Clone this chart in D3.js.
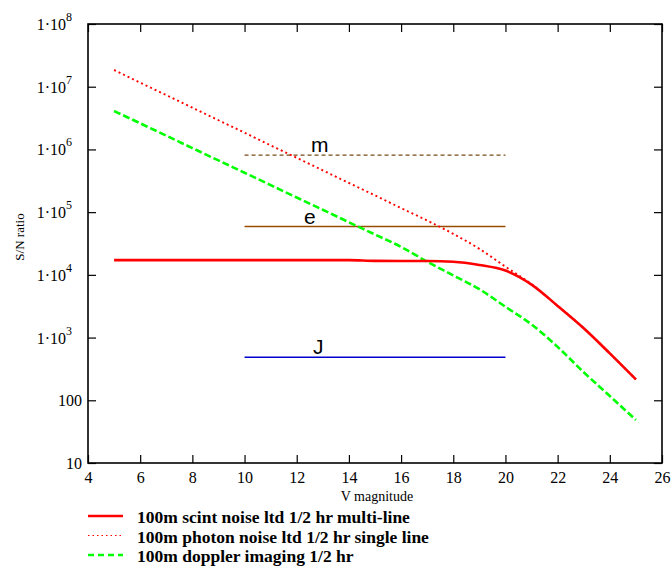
<!DOCTYPE html>
<html><head><meta charset="utf-8">
<script src="https://cdn.jsdelivr.net/npm/d3@7"></script>
<style>body{margin:0;background:#fff}svg{display:block}</style>
</head><body>
<svg id="chart" width="671" height="566"></svg>
<script>
// ---- data ----
const vMag = [5,6,7,8,9,10,11,12,13,14,15,16,17,18,19,20,21,22,23,24,25];
const scintMultiLine = [1.72e4,1.72e4,1.72e4,1.72e4,1.72e4,1.72e4,1.72e4,1.72e4,1.72e4,1.72e4,1.67e4,1.66e4,1.66e4,1.62e4,1.44e4,1.17e4,7.0e3,3.2e3,1.41e3,560,215];
const photonSingleLine = [1.85e7,1.16e7,7.35e6,4.63e6,2.92e6,1.85e6,1.16e6,7.35e5,4.63e5,2.92e5,1.85e5,1.16e5,7.35e4,4.5e4,2.6e4,1.35e4,7.1e3,3.2e3,1.41e3,560,215];
const dopplerImaging = [4.1e6,2.61e6,1.66e6,1.05e6,6.68e5,4.25e5,2.7e5,1.71e5,1.09e5,6.9e4,4.4e4,2.79e4,1.62e4,9.8e3,5.9e3,3.1e3,1.62e3,710,280,117,48.5];

const refNames = ["m","e","J"];
const refValues = [8.1e5, 5.9e4, 485];
const refFrom = [10, 10, 10];
const refTo = [20, 20, 20];

const xTicks = [4,6,8,10,12,14,16,18,20,22,24,26];
const yTicks = [10,100,1e3,1e4,1e5,1e6,1e7,1e8];
const yTickMant = ["10","100","1·10","1·10","1·10","1·10","1·10","1·10"];
const yTickExp  = ["","","3","4","5","6","7","8"];

const legendLabels = ["100m scint noise ltd 1/2 hr multi-line","100m photon noise ltd 1/2 hr single line","100m doppler imaging 1/2 hr"];

// ---- chart ----
const svg = d3.select("#chart");
const L = 88, R = 662, T = 24, B = 463;
const x = d3.scaleLinear().domain([4,26]).range([L,R]);
const y = d3.scaleLog().domain([10,1e8]).range([B,T]);
const serif = "'Liberation Serif','Times New Roman',serif";
const sans = "'Liberation Sans',Arial,sans-serif";

// axes with inward ticks
const gB = svg.append("g").attr("transform",`translate(0,${B})`)
  .call(d3.axisBottom(x).tickValues(xTicks).tickSizeInner(-8).tickSizeOuter(0).tickPadding(9).tickFormat(d3.format("d")));
const gT = svg.append("g").attr("transform",`translate(0,${T})`)
  .call(d3.axisTop(x).tickValues(xTicks).tickSizeInner(-8).tickSizeOuter(0).tickFormat(""));
const gL = svg.append("g").attr("transform",`translate(${L},0)`)
  .call(d3.axisLeft(y).tickValues(yTicks).tickSizeInner(-8).tickSizeOuter(0).tickFormat(""));
const gR = svg.append("g").attr("transform",`translate(${R},0)`)
  .call(d3.axisRight(y).tickValues(yTicks).tickSizeInner(-8).tickSizeOuter(0).tickFormat(""));
[gB,gT,gL,gR].forEach(g=>{
  g.select(".domain").remove();
  g.selectAll(".tick line").attr("stroke","#000").attr("stroke-width",1.2);
});
gB.selectAll(".tick text").attr("font-family",serif).attr("font-size",16).attr("fill","#000");

// frame
svg.append("rect").attr("x",L).attr("y",T).attr("width",R-L).attr("height",B-T)
  .attr("fill","none").attr("stroke","#000").attr("stroke-width",1.6);

// y tick labels
yTicks.forEach((v,i)=>{
  const t = svg.append("text").attr("font-family",serif).attr("font-size",16).attr("fill","#000")
    .attr("text-anchor","end").attr("x", yTickExp[i] ? 72 : 82).attr("y", y(v)+6);
  t.append("tspan").text(yTickMant[i]);
  if (yTickExp[i]) t.append("tspan").attr("font-size",12).attr("dy",-9).text(yTickExp[i]);
});

// axis titles
svg.append("text").attr("x",377).attr("y",501).attr("text-anchor","middle")
  .attr("font-family",serif).attr("font-size",14).text("V magnitude");
svg.append("text").attr("transform","translate(24,237) rotate(-90)").attr("text-anchor","middle")
  .attr("font-family",serif).attr("font-size",13).text("S/N ratio");

// reference levels
const refColors = ["#7a4a1a","#994c00","#0000cc"];
const refDash = ["4,3",null,null];
const refWidth = [1.2,1.5,1.5];
const refLabelX = [311,304,313];
refNames.forEach((n,i)=>{
  svg.append("line").attr("x1",x(refFrom[i])).attr("x2",x(refTo[i]))
    .attr("y1",y(refValues[i])).attr("y2",y(refValues[i]))
    .attr("stroke",refColors[i]).attr("stroke-width",refWidth[i])
    .attr("stroke-dasharray",refDash[i]);
  svg.append("text").attr("x",refLabelX[i]).attr("y",y(refValues[i])-3)
    .attr("font-family",sans).attr("font-size",21).attr("fill","#000").text(n);
});

// series
const line = d3.line().x(d=>x(d[0])).y(d=>y(d[1])).curve(d3.curveMonotoneX);
const series = [
  {vals: photonSingleLine, color:"#ff0000", w:1.9, dash:"2,3"},
  {vals: dopplerImaging, color:"#00ff00", w:2.6, dash:"7,3"},
  {vals: scintMultiLine, color:"#ff0000", w:2.6, dash:null}
];
series.forEach(s=>{
  svg.append("path").datum(vMag.map((v,i)=>[v,s.vals[i]]))
    .attr("d",line).attr("fill","none").attr("stroke",s.color)
    .attr("stroke-width",s.w).attr("stroke-dasharray",s.dash);
});

// legend
const legStyles = [
  {color:"#ff0000", w:2.4, dash:null},
  {color:"#ff0000", w:1.2, dash:"1.5,3"},
  {color:"#00ff00", w:2.4, dash:"6,4"}
];
legendLabels.forEach((lab,i)=>{
  const ly = 516 + i*19.5;
  svg.append("line").attr("x1",88).attr("x2",123).attr("y1",ly).attr("y2",ly)
    .attr("stroke",legStyles[i].color).attr("stroke-width",legStyles[i].w)
    .attr("stroke-dasharray",legStyles[i].dash);
  svg.append("text").attr("x",137).attr("y",ly+7).attr("font-family",serif)
    .attr("font-size",17.5).attr("font-weight","bold").attr("fill","#000").text(lab);
});
</script>
</body></html>
